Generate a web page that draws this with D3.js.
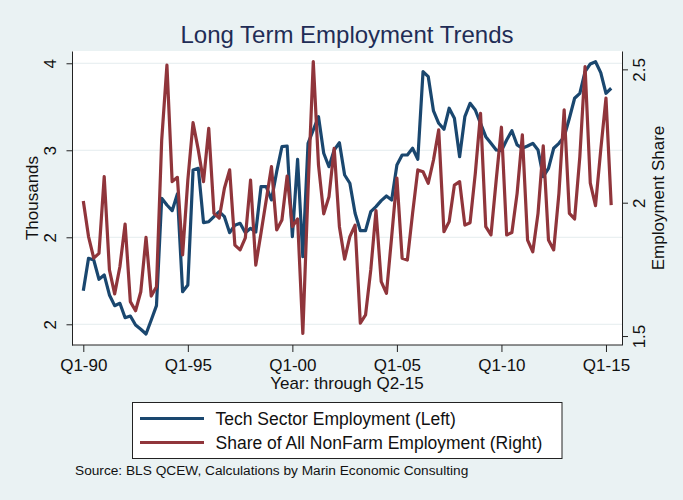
<!DOCTYPE html>
<html>
<head>
<meta charset="utf-8">
<script src="https://cdn.jsdelivr.net/npm/d3@7"></script>
<style>
  body { margin: 0; background: #eaf2f3; }
  svg { display: block; font-family: "Liberation Sans", Arial, Helvetica, sans-serif; }
</style>
</head>
<body>
<svg id="chart" width="683" height="500"></svg>
<script>
// quarterly data, Q1-90 through Q2-15
const firstYear = 1990;

// left axis (Thousands)
const techEmp = [
  1.386, 1.759, 1.739, 1.517, 1.567, 1.337, 1.214, 1.241, 1.076, 1.095,
  0.992, 0.943, 0.889, 1.049, 1.214, 2.448, 2.371, 2.306, 2.498, 1.375,
  1.452, 2.774, 2.793, 2.168, 2.179, 2.237, 2.294, 2.237, 2.053, 2.138,
  2.161, 2.053, 2.103, 2.061, 2.582, 2.582, 2.429, 2.754, 3.041, 3.049,
  2.007, 2.897, 1.777, 3.080, 3.233, 3.386, 2.966, 2.811, 3.003, 3.087,
  2.716, 2.621, 2.276, 2.076, 2.076, 2.294, 2.352, 2.421, 2.475, 2.429,
  2.831, 2.946, 2.946, 3.023, 2.897, 3.903, 3.846, 3.452, 3.310, 3.241,
  3.483, 3.368, 2.926, 3.386, 3.540, 3.463, 3.310, 3.156, 3.080, 3.003,
  2.995, 3.118, 3.225, 3.061, 3.023, 3.049, 3.080, 3.003, 2.697, 2.793,
  3.023, 3.080, 3.156, 3.368, 3.598, 3.655, 3.903, 3.992, 4.018, 3.892,
  3.655, 3.713
];

// right axis (Employment Share)
const nonFarmShare = [
  2.006, 1.873, 1.792, 1.810, 2.098, 1.748, 1.658, 1.760, 1.920, 1.629,
  1.595, 1.666, 1.870, 1.650, 1.685, 2.235, 2.516, 2.079, 2.095, 1.804,
  2.085, 2.300, 2.198, 2.079, 2.279, 1.960, 1.942, 2.054, 2.123, 1.841,
  1.823, 1.868, 2.085, 1.766, 1.886, 2.010, 2.135, 1.898, 1.935, 2.100,
  1.910, 1.939, 1.510, 2.048, 2.529, 2.141, 1.958, 2.022, 2.204, 1.910,
  1.788, 1.873, 1.916, 1.548, 1.579, 1.748, 1.970, 1.704, 1.660, 1.873,
  2.092, 1.792, 1.785, 1.960, 2.123, 2.116, 2.073, 2.160, 2.273, 1.891,
  1.929, 2.066, 2.079, 1.916, 1.925, 2.110, 2.335, 1.910, 1.879, 2.085,
  2.283, 1.879, 1.888, 2.035, 2.254, 1.860, 1.816, 1.960, 2.213, 1.860,
  1.823, 2.035, 2.348, 1.960, 1.939, 2.173, 2.510, 2.073, 1.989, 2.198,
  2.392, 1.991
];

const xTicks = [1990, 1995, 2000, 2005, 2010, 2015];
const xTickLabels = ["Q1-90", "Q1-95", "Q1-00", "Q1-05", "Q1-10", "Q1-15"];
const leftTicks = [1, 2, 3, 4];
const leftTickLabels = ["2", "2", "3", "4"];
const rightTicks = [1.5, 2, 2.5];
const rightTickLabels = ["1.5", "2", "2.5"];
const seriesNames = ["Tech Sector Employment (Left)", "Share of All NonFarm Employment (Right)"];
const seriesColors = ["#1a476f", "#90353b"];

const svg = d3.select("#chart");
const width = 683,
  margin = { left: 72, top: 51, right: 61, bottom: 155 },
  iwidth = width - margin.left - margin.right,
  iheight = 500 - margin.top - margin.bottom;

svg.append("rect").attr("width", width).attr("height", 500).attr("fill", "#eaf2f3");

const x = d3.scaleLinear().domain([1990, 2015.25]).range([11.3, 539.2]),
  yL = d3.scaleLinear().domain([0.762, 4.141]).range([iheight, 0]),
  yR = d3.scaleLinear().domain([1.4664, 2.5688]).range([iheight, 0]);

const g = svg.append("g").attr("transform", `translate(${margin.left}, ${margin.top})`);

g.append("rect").attr("width", iwidth).attr("height", iheight).attr("fill", "#fff");

// gridlines at the left ticks
g.selectAll(".grid")
  .data(leftTicks)
  .join("line")
  .attr("class", "grid")
  .attr("x1", 0)
  .attr("x2", iwidth)
  .attr("y1", (d) => yL(d))
  .attr("y2", (d) => yL(d))
  .attr("stroke", "#e4ecee")
  .attr("stroke-width", 1);

const quarter = (d, i) => firstYear + i / 4;

const line = (scale) =>
  d3.line()
    .x((d, i) => x(quarter(d, i)))
    .y((d) => scale(d));

g.append("path")
  .datum(techEmp)
  .attr("d", line(yL))
  .attr("fill", "none")
  .attr("stroke", seriesColors[0])
  .attr("stroke-width", 3.2)
  .attr("stroke-linejoin", "round");

g.append("path")
  .datum(nonFarmShare)
  .attr("d", line(yR))
  .attr("fill", "none")
  .attr("stroke", seriesColors[1])
  .attr("stroke-width", 3.2)
  .attr("stroke-linejoin", "round");

// axes
const styleAxis = (sel) => {
  sel.selectAll("line").attr("stroke", "#222");
  sel.selectAll("path").attr("stroke", "#222");
  sel.selectAll("text").attr("fill", "#111").style("font-size", "17px").style("font-family", null);
};

g.append("g")
  .call(d3.axisLeft(yL).tickValues(leftTicks).tickSize(5.5).tickSizeOuter(0)
    .tickFormat((d, i) => leftTickLabels[i]))
  .call(styleAxis)
  .call((a) => a.selectAll("text")
    .attr("transform", "rotate(-90)")
    .attr("x", 0).attr("y", -16).attr("dy", 0)
    .style("text-anchor", "middle"));

g.append("g")
  .attr("transform", `translate(${iwidth}, 0)`)
  .call(d3.axisRight(yR).tickValues(rightTicks).tickSize(6).tickSizeOuter(0)
    .tickFormat((d, i) => rightTickLabels[i]))
  .call(styleAxis)
  .call((a) => a.selectAll("text")
    .attr("transform", "rotate(-90)")
    .attr("x", 0).attr("y", 23).attr("dy", 0)
    .style("text-anchor", "middle"));

g.append("g")
  .attr("transform", `translate(0, ${iheight})`)
  .call(d3.axisBottom(x).tickValues(xTicks).tickSize(7).tickSizeOuter(0)
    .tickFormat((d, i) => xTickLabels[i]))
  .call(styleAxis)
  .call((a) => a.select(".domain").remove())
  .call((a) => a.selectAll("text").attr("y", 0).attr("dy", "25.5px"));

g.append("line")
  .attr("x1", 0).attr("x2", iwidth)
  .attr("y1", iheight).attr("y2", iheight)
  .attr("stroke", "#222");

// titles
svg.append("text")
  .attr("x", margin.left + iwidth / 2).attr("y", 43)
  .attr("text-anchor", "middle")
  .attr("fill", "#1f2d56")
  .style("font-size", "24px")
  .text("Long Term Employment Trends");

svg.append("text")
  .attr("transform", "translate(38, 198) rotate(-90)")
  .attr("text-anchor", "middle")
  .attr("fill", "#111")
  .style("font-size", "17px")
  .text("Thousands");

svg.append("text")
  .attr("transform", "translate(664, 198) rotate(-90)")
  .attr("text-anchor", "middle")
  .attr("fill", "#111")
  .style("font-size", "17px")
  .text("Employment Share");

svg.append("text")
  .attr("x", margin.left + iwidth / 2).attr("y", 389)
  .attr("text-anchor", "middle")
  .attr("fill", "#111")
  .style("font-size", "17px")
  .text("Year: through Q2-15");

// legend
const legend = svg.append("g").attr("transform", "translate(132.5, 402.5)");
legend.append("rect")
  .attr("width", 429.5).attr("height", 56)
  .attr("fill", "#fff").attr("stroke", "#222");

const item = legend.selectAll(".item")
  .data(seriesNames)
  .join("g")
  .attr("class", "item")
  .attr("transform", (d, i) => `translate(0, ${16 + i * 24})`);

item.append("line")
  .attr("x1", 7.5).attr("x2", 71.5)
  .attr("stroke", (d, i) => seriesColors[i])
  .attr("stroke-width", 3.2);

item.append("text")
  .attr("x", 83).attr("y", 6.3)
  .attr("fill", "#111")
  .style("font-size", "17.5px")
  .text((d) => d);

svg.append("text")
  .attr("x", 75).attr("y", 475)
  .attr("fill", "#111")
  .style("font-size", "13.7px")
  .text("Source: BLS QCEW, Calculations by Marin Economic Consulting");
</script>
</body>
</html>
